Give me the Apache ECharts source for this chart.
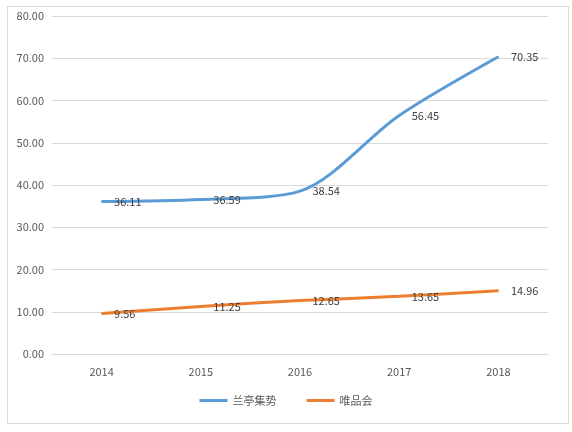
<!DOCTYPE html>
<html><head><meta charset="utf-8">
<script src="https://cdn.jsdelivr.net/npm/echarts@6/dist/echarts.min.js"></script>
<style>html,body{margin:0;padding:0;background:#fff}#c{width:572px;height:432px}</style>
</head><body><div id="c"></div>
<script>
const years = ["2014", "2015", "2016", "2017", "2018"];
const lanting = [36.11, 36.59, 38.54, 56.45, 70.35];
const vip = [9.56, 11.25, 12.65, 13.65, 14.96];

const font = "'Microsoft YaHei','Noto Sans CJK SC',sans-serif";
const label = {
  show: true, position: "right", distance: 12, color: "#404040", fontSize: 11,
  fontFamily: font, formatter: (p) => p.value.toFixed(2)
};
const chart = echarts.init(document.getElementById("c"), null, { renderer: "canvas" });
chart.setOption({
  animation: false,
  textStyle: { fontFamily: font },
  graphic: [{ type: "rect", left: 5, top: 4, shape: { width: 561, height: 417 },
    style: { fill: "none", stroke: "#d9d9d9", lineWidth: 1 } }],
  grid: { left: 52, right: 24, top: 16, bottom: 78 },
  legend: {
    bottom: 21, itemWidth: 28, itemHeight: 3, itemGap: 30, icon: "rect",
    textStyle: { color: "#595959", fontSize: 11 }
  },
  xAxis: {
    type: "category", data: years, boundaryGap: true,
    axisLine: { lineStyle: { color: "#d9d9d9" } }, axisTick: { show: false },
    axisLabel: { color: "#595959", fontSize: 11, margin: 12 }
  },
  yAxis: {
    type: "value", min: 0, max: 80, interval: 10,
    axisLine: { show: false }, axisTick: { show: false },
    splitLine: { lineStyle: { color: "#d9d9d9" } },
    axisLabel: { color: "#595959", fontSize: 11, formatter: (v) => v.toFixed(2) }
  },
  series: [
    { name: "兰亭集势", type: "line", data: lanting, smooth: 0.3, symbol: "circle", symbolSize: 1,
      showSymbol: true, lineStyle: { color: "#5B9BD5", width: 3 }, itemStyle: { color: "#5B9BD5" }, label },
    { name: "唯品会", type: "line", data: vip, smooth: 0.3, symbol: "circle", symbolSize: 1,
      showSymbol: true, lineStyle: { color: "#ED7D31", width: 3 }, itemStyle: { color: "#ED7D31" }, label }
  ]
});
</script></body></html>
